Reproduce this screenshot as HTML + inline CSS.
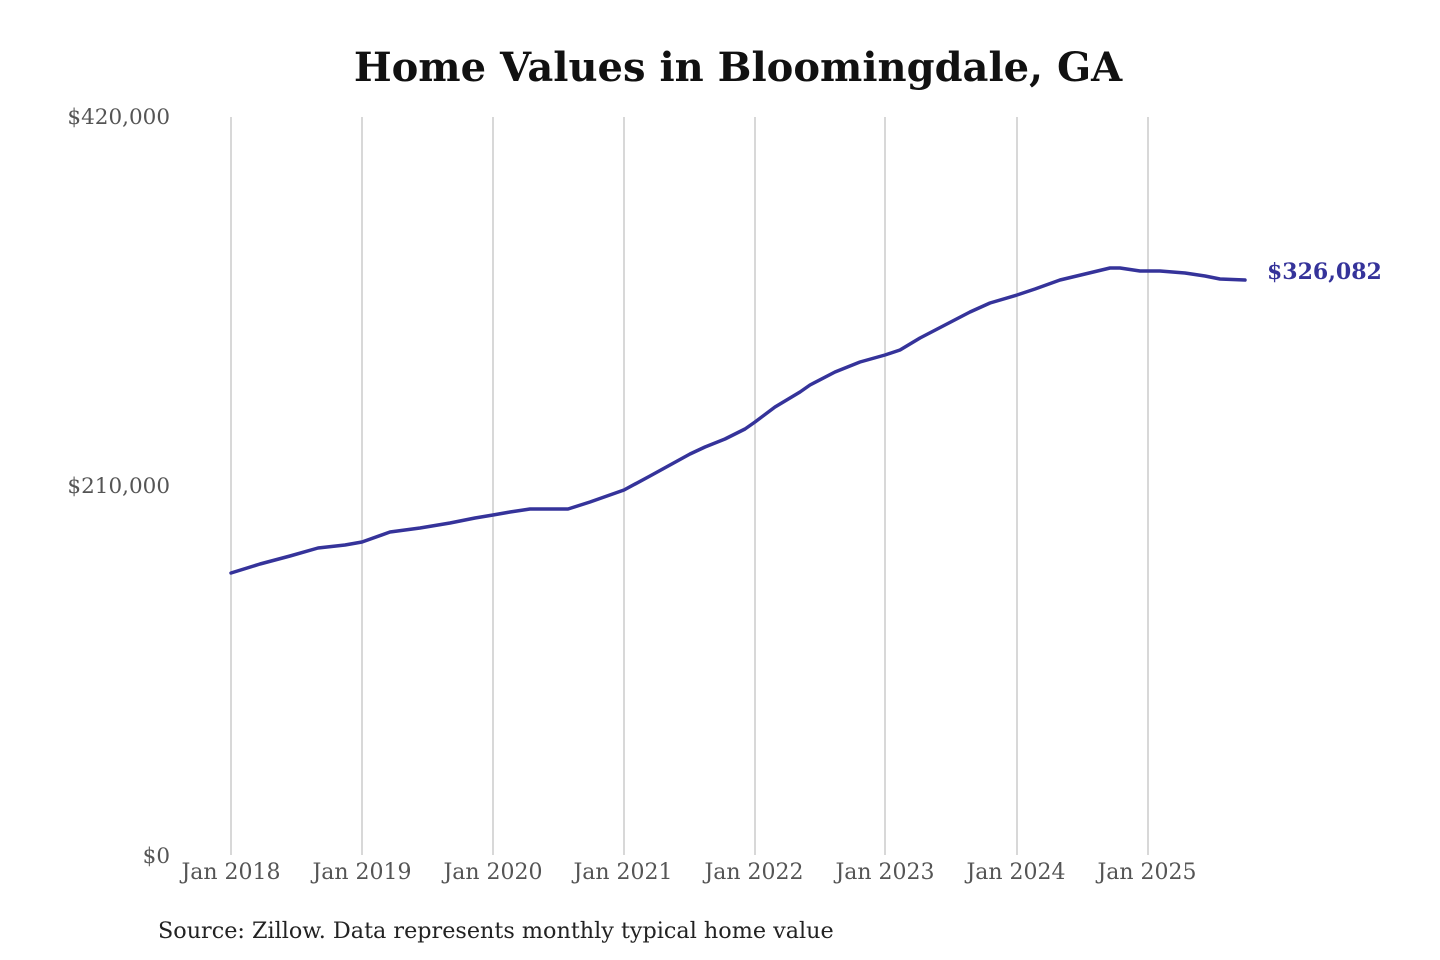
<!DOCTYPE html>
<html><head><meta charset="utf-8"><style>
html,body{margin:0;padding:0;background:#fff;}
svg{display:block;}
text{font-family:"DejaVu Serif","Liberation Serif",serif;}
</style></head><body>
<svg width="1440" height="960" viewBox="0 0 1440 960" xmlns="http://www.w3.org/2000/svg">
<text x="738" y="81" text-anchor="middle" font-size="40" font-weight="bold" fill="#111">Home Values in Bloomingdale, GA</text>
<g stroke="#c4c4c4" stroke-width="1.3">
<line x1="231" y1="117" x2="231" y2="855"/><line x1="362" y1="117" x2="362" y2="855"/>
<line x1="493" y1="117" x2="493" y2="855"/><line x1="624" y1="117" x2="624" y2="855"/>
<line x1="755" y1="117" x2="755" y2="855"/><line x1="885" y1="117" x2="885" y2="855"/>
<line x1="1017" y1="117" x2="1017" y2="855"/><line x1="1148" y1="117" x2="1148" y2="855"/>
</g>
<g font-size="21.5" fill="#555" text-anchor="end">
<text x="170" y="124">$420,000</text>
<text x="170" y="493">$210,000</text>
<text x="170" y="863">$0</text>
</g>
<g font-size="22" fill="#555" text-anchor="middle">
<text x="231" y="879">Jan 2018</text><text x="362" y="879">Jan 2019</text>
<text x="493" y="879">Jan 2020</text><text x="623" y="879">Jan 2021</text>
<text x="754" y="879">Jan 2022</text><text x="885" y="879">Jan 2023</text>
<text x="1016" y="879">Jan 2024</text><text x="1147" y="879">Jan 2025</text>
</g>
<polyline fill="none" stroke="#35339a" stroke-width="3.5" stroke-linejoin="round" stroke-linecap="round"
points="231,573 260,564 290,556 318,548 345,545 362,542 390,532 420,528 450,523 475,518 493,515 510,512 530,509 550,509 568,509 590,502 624,490 650,476 670,465 690,454 705,447 725,439 745,429 755,422 775,407 800,392 810,385 835,372 860,362 885,355 900,350 920,338 945,325 970,312 990,303 1017,295 1035,289 1060,280 1085,274 1110,268 1120,268 1140,271 1160,271 1185,273 1205,276 1220,279 1245,280"/>
<text x="1267" y="279" font-size="22" font-weight="bold" fill="#35339a">$326,082</text>
<text x="158" y="938" font-size="22.3" fill="#222">Source: Zillow. Data represents monthly typical home value</text>
</svg>
</body></html>
